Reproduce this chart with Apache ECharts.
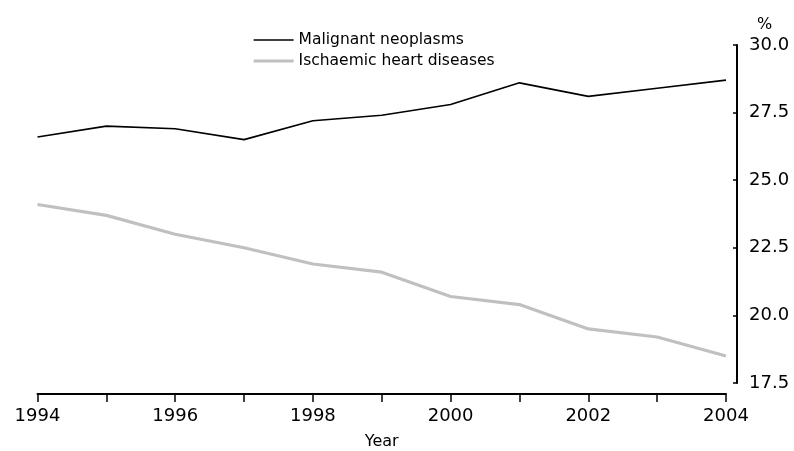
<!DOCTYPE html>
<html><head><meta charset="utf-8">
<script src="https://cdn.jsdelivr.net/npm/echarts@6/dist/echarts.min.js"></script>
<style>html,body{margin:0;padding:0;background:#fff}#c{width:794px;height:451px}</style>
</head><body><div id="c"></div>
<script>
const years = [1994,1995,1996,1997,1998,1999,2000,2001,2002,2003,2004];
const malignant = [26.6,27.0,26.9,26.5,27.2,27.4,27.8,28.6,28.1,28.4,28.7];
const ischaemic = [24.1,23.7,23.0,22.5,21.9,21.6,20.7,20.4,19.5,19.2,18.5];
const seriesNames = ['Malignant neoplasms','Ischaemic heart diseases'];
const yTicks = [17.5,20.0,22.5,25.0,27.5,30.0];
const FONT = 'DejaVu Sans';
const chart = echarts.init(document.getElementById('c'), null, {renderer:'canvas'});
chart.setOption({
  animation:false,
  backgroundColor:'#fff',
  textStyle:{fontFamily:FONT},
  title:{text:'%', left:752, top:12, textStyle:{fontFamily:FONT,fontSize:16,fontWeight:'normal',color:'#000'}},
  legend:{
    orient:'vertical', left:247, top:27, itemGap:5, itemWidth:40, itemHeight:14,
    itemStyle:{opacity:0},
    textStyle:{fontFamily:FONT,fontSize:15.5,color:'#000'},
    data:[
      {name:seriesNames[0], lineStyle:{width:1.6,color:'#000'}},
      {name:seriesNames[1], lineStyle:{width:3.2,color:'#c0c0c0'}}
    ]
  },
  grid:{left:37.5, right:68, top:45, bottom:68, containLabel:false, outerBoundsMode:'none'},
  xAxis:{
    type:'value', min:years[0], max:years[years.length-1], interval:1,
    offset:11,
    name:'Year', nameLocation:'middle', nameGap:40,
    nameTextStyle:{fontFamily:FONT,fontSize:16,color:'#000'},
    axisLine:{lineStyle:{color:'#000',width:2}},
    axisTick:{show:true,inside:false,length:8,lineStyle:{color:'#000',width:1.5}},
    axisLabel:{fontFamily:FONT,fontSize:18,color:'#000',margin:13,
      formatter:v=> (v%2===0 ? String(v) : '')},
    splitLine:{show:false}
  },
  yAxis:{
    type:'value', position:'right', min:yTicks[0], max:yTicks[yTicks.length-1], interval:2.5,
    offset:11,
    axisLine:{show:true,lineStyle:{color:'#000',width:2}},
    axisTick:{show:true,inside:true,length:4,lineStyle:{color:'#000',width:1.5}},
    axisLabel:{fontFamily:FONT,fontSize:18,color:'#000',margin:12,
      formatter:v=>v.toFixed(1)},
    splitLine:{show:false}
  },
  series:[
    {name:seriesNames[0], type:'line', data:years.map((y,i)=>[y,malignant[i]]),
     showSymbol:false, symbol:'none', lineStyle:{color:'#000',width:1.6}, itemStyle:{color:'#000'}},
    {name:seriesNames[1], type:'line', data:years.map((y,i)=>[y,ischaemic[i]]),
     showSymbol:false, symbol:'none', lineStyle:{color:'#c0c0c0',width:3.2}, itemStyle:{color:'#c0c0c0'}}
  ]
});
</script></body></html>
